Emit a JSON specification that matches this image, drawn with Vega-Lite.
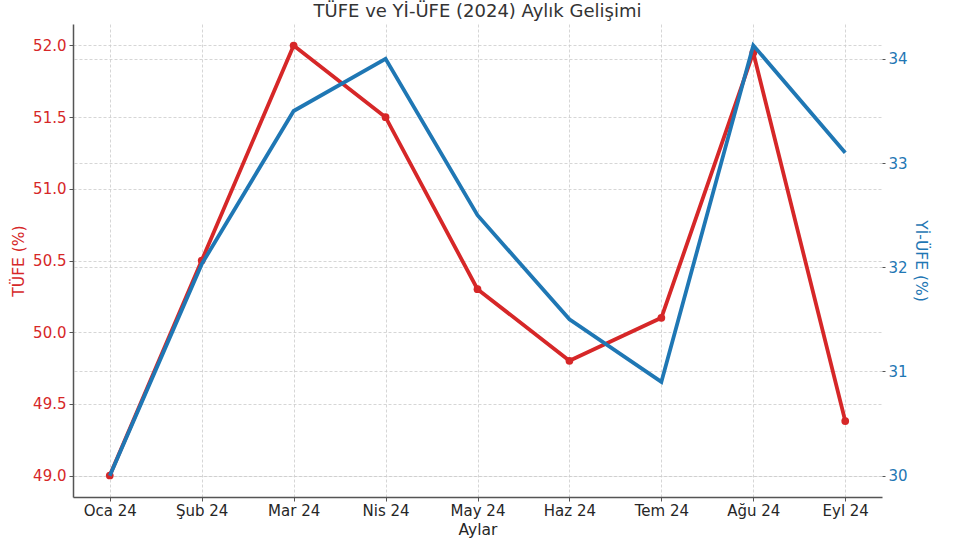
{
  "$schema": "https://vega.github.io/schema/vega-lite/v6.json",
  "autosize": "none",
  "width": 809,
  "height": 473,
  "padding": {"left": 73, "top": 24, "right": 73, "bottom": 48},
  "background": "white",
  "config": {
    "font": "DejaVu Sans",
    "view": {"stroke": null},
    "axis": {
      "labelFont": "DejaVu Sans",
      "titleFont": "DejaVu Sans",
      "labelFontSize": 15,
      "titleFontSize": 15.5,
      "titleFontWeight": "normal",
      "gridColor": "#cccccc",
      "gridDash": [3, 2],
      "gridWidth": 0.8,
      "domainColor": "#555555",
      "domainWidth": 1.5,
      "tickColor": "#555555"
    }
  },
  "title": {
    "text": "TÜFE ve Yİ-ÜFE (2024) Aylık Gelişimi",
    "font": "DejaVu Sans",
    "fontSize": 18,
    "fontWeight": "normal",
    "color": "#333333",
    "offset": 3,
    "anchor": "middle"
  },
  "data": {
    "values": [
      {"ay": "Oca 24", "tufe": 49.0, "yiufe": 30.0},
      {"ay": "Şub 24", "tufe": 50.5, "yiufe": 32.03},
      {"ay": "Mar 24", "tufe": 52.0, "yiufe": 33.5},
      {"ay": "Nis 24", "tufe": 51.5, "yiufe": 34.0},
      {"ay": "May 24", "tufe": 50.3, "yiufe": 32.5},
      {"ay": "Haz 24", "tufe": 49.8, "yiufe": 31.5},
      {"ay": "Tem 24", "tufe": 50.1, "yiufe": 30.9},
      {"ay": "Ağu 24", "tufe": 51.95, "yiufe": 34.13},
      {"ay": "Eyl 24", "tufe": 49.38, "yiufe": 33.1}
    ]
  },
  "encoding": {
    "x": {
      "field": "ay",
      "type": "ordinal",
      "sort": null,
      "scale": {"type": "point", "padding": 0.4},
      "axis": {
        "title": "Aylar",
        "labelAngle": 0,
        "labelColor": "#262626",
        "titleColor": "#262626",
        "grid": true,
        "tickSize": 4,
        "labelPadding": 2,
        "titlePadding": 4
      }
    }
  },
  "layer": [
    {
      "mark": {"type": "line", "color": "#d62728", "strokeWidth": 3.8, "point": {"filled": true, "size": 60, "color": "#d62728"}},
      "encoding": {
        "y": {
          "field": "tufe",
          "type": "quantitative",
          "scale": {"domain": [48.85, 52.15], "nice": false, "zero": false},
          "axis": {
            "title": "TÜFE (%)",
            "orient": "left",
            "values": [49.0, 49.5, 50.0, 50.5, 51.0, 51.5, 52.0],
            "format": ".1f",
            "labelColor": "#d62728",
            "titleColor": "#d62728",
            "grid": true,
            "tickSize": 4,
            "labelPadding": 3,
            "titlePadding": 6
          }
        }
      }
    },
    {
      "mark": {"type": "line", "color": "#1f77b4", "strokeWidth": 3.8},
      "encoding": {
        "y": {
          "field": "yiufe",
          "type": "quantitative",
          "scale": {"domain": [29.795, 34.335], "nice": false, "zero": false},
          "axis": {
            "title": "Yİ-ÜFE (%)",
            "orient": "right",
            "values": [30, 31, 32, 33, 34],
            "labelColor": "#1f77b4",
            "titleColor": "#1f77b4",
            "grid": true,
            "domain": false,
            "tickSize": 3,
            "labelPadding": 3,
            "titlePadding": 5
          }
        }
      }
    }
  ],
  "resolve": {"scale": {"y": "independent"}}
}
